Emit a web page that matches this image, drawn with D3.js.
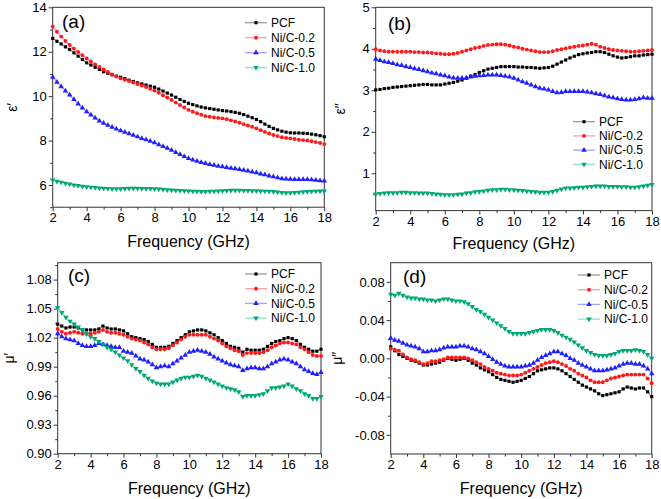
<!DOCTYPE html>
<html><head><meta charset="utf-8">
<script src="https://cdn.jsdelivr.net/npm/d3@7/dist/d3.min.js"></script>
<style>
html,body{margin:0;padding:0;background:#fff;}
svg{display:block;font-family:"Liberation Sans",Arial,sans-serif;}
</style></head>
<body>
<svg id="chart" width="661" height="499"></svg>
<script>
// ---------- DATA ----------
const seriesNames = ["PCF", "Ni/C-0.2", "Ni/C-0.5", "Ni/C-1.0"];
const freq = [2,2.25,2.5,2.75,3,3.25,3.5,3.75,4,4.25,4.5,4.75,5,5.25,5.5,5.75,6,6.25,6.5,6.75,7,7.25,7.5,7.75,8,8.25,8.5,8.75,9,9.25,9.5,9.75,10,10.25,10.5,10.75,11,11.25,11.5,11.75,12,12.25,12.5,12.75,13,13.25,13.5,13.75,14,14.25,14.5,14.75,15,15.25,15.5,15.75,16,16.25,16.5,16.75,17,17.25,17.5,17.75,18];
const xTicks = [2,4,6,8,10,12,14,16,18];
const xMinor = [3,5,7,9,11,13,15,17];

// (a) epsilon'
const epsRe_PCF = [12.60,12.47,12.35,12.22, 12.10,11.95,11.80,11.65, 11.50,11.40,11.30,11.20, 11.10,11.03,10.96,10.90, 10.85,10.79,10.72,10.66, 10.60,10.55,10.50,10.45, 10.40,10.32,10.23,10.14, 10.05,9.95,9.85,9.76, 9.68,9.62,9.56,9.51, 9.47,9.44,9.41,9.38, 9.35,9.33,9.30,9.27, 9.23,9.17,9.10,9.03, 8.95,8.85,8.74,8.64, 8.55,8.48,8.42,8.38, 8.35,8.34,8.34,8.33, 8.32,8.29,8.26,8.22, 8.17];
const epsRe_02 = [13.13,12.90,12.68,12.48, 12.30,12.14,11.99,11.84, 11.70,11.56,11.43,11.31, 11.20,11.09,10.98,10.88, 10.80,10.74,10.68,10.61, 10.55,10.48,10.41,10.33, 10.25,10.15,10.04,9.94, 9.83,9.71,9.60,9.49, 9.38,9.30,9.23,9.16, 9.10,9.07,9.04,9.02, 9.00,8.96,8.91,8.86, 8.80,8.74,8.68,8.62, 8.55,8.47,8.39,8.32, 8.25,8.20,8.15,8.12, 8.10,8.07,8.04,8.02, 8.00,7.97,7.93,7.89, 7.84];
const epsRe_05 = [10.85,10.63,10.43,10.24, 10.05,9.85,9.65,9.47, 9.30,9.16,9.02,8.89, 8.78,8.69,8.60,8.52, 8.45,8.38,8.31,8.24, 8.17,8.10,8.04,7.97, 7.90,7.82,7.74,7.66, 7.57,7.47,7.38,7.29, 7.20,7.13,7.07,7.02, 6.97,6.93,6.89,6.85, 6.82,6.79,6.76,6.73, 6.70,6.67,6.63,6.59, 6.55,6.50,6.46,6.41, 6.37,6.33,6.29,6.27, 6.26,6.25,6.25,6.25, 6.25,6.24,6.22,6.20, 6.18];
const epsRe_10 = [6.22,6.17,6.12,6.08, 6.04,6.00,5.97,5.94, 5.92,5.90,5.88,5.86, 5.85,5.84,5.83,5.83, 5.83,5.84,5.85,5.85, 5.85,5.84,5.84,5.84, 5.83,5.82,5.80,5.78, 5.77,5.76,5.75,5.74, 5.73,5.72,5.71,5.70, 5.70,5.71,5.72,5.73, 5.74,5.75,5.76,5.76, 5.76,5.75,5.75,5.74, 5.74,5.73,5.72,5.71, 5.70,5.68,5.66,5.65, 5.65,5.66,5.67,5.69, 5.70,5.71,5.72,5.73, 5.73];

// (b) epsilon''
const epsIm_PCF = [3.01,3.02,3.04,3.05, 3.07,3.08,3.09,3.10, 3.11,3.12,3.13,3.14, 3.14,3.13,3.13,3.13, 3.15,3.17,3.19,3.22, 3.25,3.29,3.34,3.38, 3.43,3.47,3.51,3.53, 3.55,3.57,3.57,3.57, 3.57,3.56,3.56,3.55, 3.55,3.54,3.53,3.54, 3.55,3.58,3.63,3.68, 3.73,3.78,3.82,3.86, 3.88,3.90,3.91,3.93, 3.93,3.91,3.87,3.83, 3.80,3.78,3.79,3.81, 3.83,3.83,3.85,3.86, 3.87];
const epsIm_02 = [3.99,3.96,3.94,3.93, 3.93,3.93,3.93,3.93, 3.93,3.92,3.92,3.91, 3.91,3.90,3.89,3.88, 3.87,3.87,3.88,3.90, 3.93,3.96,3.99,4.02, 4.04,4.07,4.09,4.10, 4.11,4.11,4.10,4.08, 4.05,4.03,4.00,3.98, 3.96,3.94,3.92,3.92, 3.92,3.94,3.97,3.99, 4.01,4.03,4.05,4.07, 4.08,4.10,4.12,4.10, 4.05,4.02,3.99,3.97, 3.96,3.95,3.94,3.93, 3.93,3.94,3.95,3.96, 3.97];
const epsIm_05 = [3.75,3.72,3.69,3.67, 3.65,3.62,3.60,3.57, 3.55,3.52,3.50,3.47, 3.45,3.42,3.40,3.37, 3.35,3.32,3.30,3.29, 3.29,3.30,3.32,3.34, 3.35,3.36,3.37,3.37, 3.37,3.36,3.34,3.32, 3.29,3.25,3.21,3.17, 3.13,3.09,3.05,3.03, 3.01,2.97,2.94,2.95, 2.97,2.97,2.97,2.97, 2.97,2.96,2.94,2.92, 2.90,2.87,2.84,2.82, 2.80,2.78,2.77,2.77, 2.78,2.80,2.82,2.81, 2.81];
const epsIm_10 = [0.50,0.51,0.52,0.53, 0.53,0.53,0.54,0.54, 0.53,0.53,0.52,0.52, 0.52,0.51,0.50,0.49, 0.48,0.48,0.48,0.49, 0.50,0.52,0.53,0.55, 0.56,0.57,0.59,0.60, 0.60,0.61,0.61,0.60, 0.60,0.59,0.58,0.57, 0.56,0.55,0.54,0.54, 0.54,0.56,0.59,0.62, 0.64,0.64,0.65,0.66, 0.66,0.67,0.68,0.69, 0.69,0.69,0.68,0.68, 0.68,0.67,0.67,0.66, 0.66,0.67,0.69,0.71, 0.73];

// (c) mu'
const muRe_PCF = [1.034,1.032,1.030,1.031, 1.031,1.030,1.028,1.028, 1.028,1.028,1.029,1.032, 1.030,1.029,1.029,1.028, 1.027,1.024,1.021,1.020, 1.019,1.018,1.016,1.013, 1.010,1.010,1.010,1.011, 1.014,1.017,1.020,1.023, 1.026,1.027,1.028,1.028, 1.027,1.025,1.023,1.020, 1.017,1.014,1.011,1.010, 1.009,1.005,1.008,1.007, 1.007,1.007,1.008,1.011, 1.014,1.016,1.017,1.019, 1.020,1.019,1.017,1.013, 1.010,1.008,1.006,1.006, 1.008];
const muRe_02 = [1.029,1.026,1.024,1.025, 1.026,1.025,1.024,1.024, 1.024,1.025,1.026,1.028, 1.026,1.025,1.025,1.024, 1.023,1.021,1.019,1.018, 1.017,1.015,1.013,1.010, 1.008,1.008,1.008,1.009, 1.012,1.015,1.018,1.021, 1.023,1.023,1.023,1.023, 1.023,1.021,1.019,1.017, 1.014,1.011,1.009,1.007, 1.006,1.002,1.004,1.004, 1.004,1.004,1.005,1.007, 1.010,1.012,1.014,1.015, 1.015,1.014,1.013,1.010, 1.008,1.005,1.002,1.001, 1.001];
const muRe_05 = [1.024,1.021,1.019,1.018, 1.017,1.014,1.012,1.011, 1.011,1.012,1.014,1.013, 1.012,1.011,1.010,1.010, 1.006,1.005,1.004,1.001, 0.998,0.997,0.995,0.992, 0.989,0.990,0.991,0.990, 0.993,0.996,0.999,1.002, 1.005,1.006,1.007,1.006, 1.005,1.003,1.000,0.998, 0.996,0.994,0.992,0.991, 0.990,0.986,0.988,0.989, 0.989,0.988,0.988,0.990, 0.993,0.995,0.997,0.998, 0.997,0.995,0.993,0.990, 0.987,0.985,0.983,0.982, 0.984];
const muRe_10 = [1.051,1.046,1.041,1.037, 1.034,1.031,1.028,1.024, 1.021,1.019,1.016,1.013, 1.010,1.008,1.005,1.002, 0.999,0.996,0.992,0.988, 0.985,0.981,0.978,0.975, 0.973,0.972,0.972,0.972, 0.974,0.976,0.978,0.979, 0.979,0.980,0.981,0.980, 0.978,0.976,0.974,0.972, 0.970,0.968,0.967,0.966, 0.964,0.959,0.960,0.960, 0.960,0.961,0.962,0.965, 0.968,0.968,0.969,0.970, 0.972,0.970,0.967,0.965, 0.962,0.960,0.957,0.957, 0.959];

// (d) mu''
const muIm_PCF = [0.012,0.008,0.004,0.002, 0.000,-0.002,-0.003,-0.005, -0.007,-0.007,-0.006,-0.005, -0.004,-0.002,0.000,-0.001, -0.002,-0.001,0.000,-0.002, -0.005,-0.007,-0.010,-0.012, -0.014,-0.017,-0.020,-0.022, -0.023,-0.024,-0.025,-0.024, -0.023,-0.021,-0.019,-0.016, -0.013,-0.012,-0.011,-0.010, -0.010,-0.011,-0.013,-0.016, -0.019,-0.022,-0.025,-0.028, -0.030,-0.032,-0.034,-0.037, -0.039,-0.038,-0.037,-0.036, -0.035,-0.032,-0.030,-0.031, -0.032,-0.031,-0.031,-0.035, -0.040];
const muIm_02 = [0.010,0.009,0.008,0.004, 0.001,-0.001,-0.002,-0.004, -0.006,-0.005,-0.003,-0.003, -0.002,-0.001,0.001,0.001, 0.001,0.001,0.001,0.000, -0.002,-0.004,-0.006,-0.009, -0.011,-0.013,-0.015,-0.016, -0.017,-0.018,-0.018,-0.018, -0.017,-0.015,-0.013,-0.011, -0.009,-0.007,-0.005,-0.004, -0.003,-0.004,-0.006,-0.008, -0.011,-0.013,-0.016,-0.018, -0.020,-0.023,-0.025,-0.025, -0.025,-0.023,-0.021,-0.020, -0.019,-0.018,-0.017,-0.017, -0.017,-0.017,-0.017,-0.021, -0.026];
const muIm_05 = [0.021,0.019,0.018,0.016, 0.014,0.013,0.012,0.010, 0.007,0.007,0.008,0.008, 0.009,0.011,0.012,0.012, 0.012,0.013,0.013,0.012, 0.010,0.009,0.007,0.005, 0.002,-0.001,-0.004,-0.006, -0.008,-0.009,-0.009,-0.009, -0.009,-0.008,-0.007,-0.005, -0.002,0.001,0.003,0.005, 0.007,0.007,0.005,0.003, 0.000,-0.002,-0.005,-0.007, -0.009,-0.011,-0.013,-0.013, -0.013,-0.012,-0.011,-0.010, -0.008,-0.006,-0.005,-0.005, -0.006,-0.006,-0.008,-0.011, -0.016];
const muIm_10 = [0.067,0.066,0.068,0.066, 0.064,0.063,0.063,0.062, 0.062,0.061,0.061,0.060, 0.061,0.062,0.062,0.061, 0.060,0.060,0.059,0.057, 0.054,0.051,0.049,0.046, 0.043,0.040,0.037,0.034, 0.031,0.028,0.026,0.026, 0.026,0.026,0.027,0.028, 0.029,0.030,0.030,0.030, 0.029,0.027,0.024,0.022, 0.020,0.017,0.014,0.011, 0.008,0.006,0.004,0.003, 0.003,0.003,0.004,0.005, 0.007,0.008,0.008,0.008, 0.009,0.008,0.007,0.004, 0.000];

// ---------- STYLE / LAYOUT ----------
const markerColors = ["#000000", "#ff1a1a", "#1f1fff", "#00a878"];
const lineColors   = ["#9a9aaa", "#ff9aaa", "#a4a4ff", "#8ae4c0"];
const symbols = [d3.symbolSquare, d3.symbolCircle, d3.symbolTriangle, d3.symbolTriangle];
const symSize = [10, 12, 13, 13];
const symRot = [0, 0, 0, 180];

const panels = [
  {label:"(a)", yTitle:"ε′", series:[epsRe_PCF,epsRe_02,epsRe_05,epsRe_10],
   l:52.7, r:324.3, t:7.3, b:207.2, yDom:[5,14], yTicks:[6,8,10,12,14], yMinor:[5,7,9,11,13], fmt:d=>String(d),
   lab:[62,28], legX:245, legY:22.7, legDy:15, yTitleX:12, xTitleY:247},
  {label:"(b)", yTitle:"ε″", series:[epsIm_PCF,epsIm_02,epsIm_05,epsIm_10],
   l:375.7, r:652, t:7.3, b:210.6, yDom:[0.1,5], yTicks:[1,2,3,4,5], yMinor:[0.5,1.5,2.5,3.5,4.5], fmt:d=>String(d),
   lab:[388,30], legX:573, legY:121.7, legDy:14.2, yTitleX:340, xTitleY:249},
  {label:"(c)", yTitle:"μ′", series:[muRe_PCF,muRe_02,muRe_05,muRe_10],
   l:57.7, r:321, t:262.7, b:453.7, yDom:[0.9,1.0975], yTicks:[0.90,0.93,0.96,0.99,1.02,1.05,1.08], yMinor:[0.915,0.945,0.975,1.005,1.035,1.065,1.095], fmt:d=>d.toFixed(2),
   lab:[68,282], legX:245, legY:274, legDy:14.7, yTitleX:9, xTitleY:494},
  {label:"(d)", yTitle:"μ″", series:[muIm_PCF,muIm_02,muIm_05,muIm_10],
   l:390.7, r:651.7, t:262.7, b:454, yDom:[-0.1,0.1], yTicks:[-0.08,-0.04,0,0.04,0.08], yMinor:[-0.06,-0.02,0.02,0.06], fmt:d=>d.toFixed(2),
   lab:[403,283], legX:578, legY:275, legDy:14.7, yTitleX:337, xTitleY:494}
];

const svg = d3.select("#chart");
const axisColor = "#333";

panels.forEach(p => {
  p.series.forEach((s,i)=>{ if (s.length !== freq.length) console.error(p.label, seriesNames[i], s.length); });
  const x = d3.scaleLinear().domain([2,18]).range([p.l, p.r]);
  const y = d3.scaleLinear().domain(p.yDom).range([p.b, p.t]);
  const g = svg.append("g");

  g.append("rect").attr("x",p.l).attr("y",p.t).attr("width",p.r-p.l).attr("height",p.b-p.t)
    .attr("fill","none").attr("stroke",axisColor).attr("stroke-width",1);

  g.append("g").attr("transform",`translate(0,${p.b})`)
    .call(d3.axisBottom(x).tickValues(xTicks).tickSize(4).tickPadding(2).tickFormat(d=>String(d)));
  g.append("g").attr("transform",`translate(0,${p.b})`)
    .call(d3.axisBottom(x).tickValues(xMinor).tickSize(2.5).tickFormat(""));
  g.append("g").attr("transform",`translate(${p.l},0)`)
    .call(d3.axisLeft(y).tickValues(p.yTicks).tickSize(4).tickPadding(2).tickFormat(p.fmt));
  g.append("g").attr("transform",`translate(${p.l},0)`)
    .call(d3.axisLeft(y).tickValues(p.yMinor).tickSize(2.5).tickFormat(""));
  g.selectAll(".domain").remove();
  g.selectAll(".tick line").attr("stroke",axisColor);
  g.selectAll(".tick text").attr("fill","#000").style("font-size","13px").style("font-family","'Liberation Sans',Arial,sans-serif");

  g.append("text").attr("x",(p.l+p.r)/2).attr("y",p.xTitleY).attr("text-anchor","middle")
    .style("font-size","16px").text("Frequency (GHz)");
  g.append("text").attr("transform",`translate(${p.yTitleX},${(p.t+p.b)/2}) rotate(-90)`)
    .attr("text-anchor","middle").attr("dy","0.35em").style("font-size","14px").text(p.yTitle);
  g.append("text").attr("x",p.lab[0]).attr("y",p.lab[1]).style("font-size","19px").text(p.label);

  const line = d3.line().x((d,i)=>x(freq[i])).y(d=>y(d));
  p.series.forEach((s,i)=>{
    g.append("path").datum(s).attr("d",line).attr("fill","none")
      .attr("stroke",lineColors[i]).attr("stroke-width",1.3);
  });
  p.series.forEach((s,i)=>{
    const sym = d3.symbol().type(symbols[i]).size(symSize[i]);
    g.append("g").selectAll("path").data(s).join("path")
      .attr("d",sym)
      .attr("transform",(d,j)=>`translate(${x(freq[j])},${y(d)}) rotate(${symRot[i]})`)
      .attr("fill",markerColors[i]);
  });

  seriesNames.forEach((name,i)=>{
    const yy = p.legY + i*p.legDy;
    g.append("line").attr("x1",p.legX).attr("x2",p.legX+22).attr("y1",yy).attr("y2",yy)
      .attr("stroke",lineColors[i]).attr("stroke-width",1.3);
    g.append("path").attr("d",d3.symbol().type(symbols[i]).size(symSize[i]))
      .attr("transform",`translate(${p.legX+11},${yy}) rotate(${symRot[i]})`).attr("fill",markerColors[i]);
    g.append("text").attr("x",p.legX+26).attr("y",yy).attr("dy","0.35em")
      .style("font-size","12px").text(name);
  });
});
</script>
</body></html>
